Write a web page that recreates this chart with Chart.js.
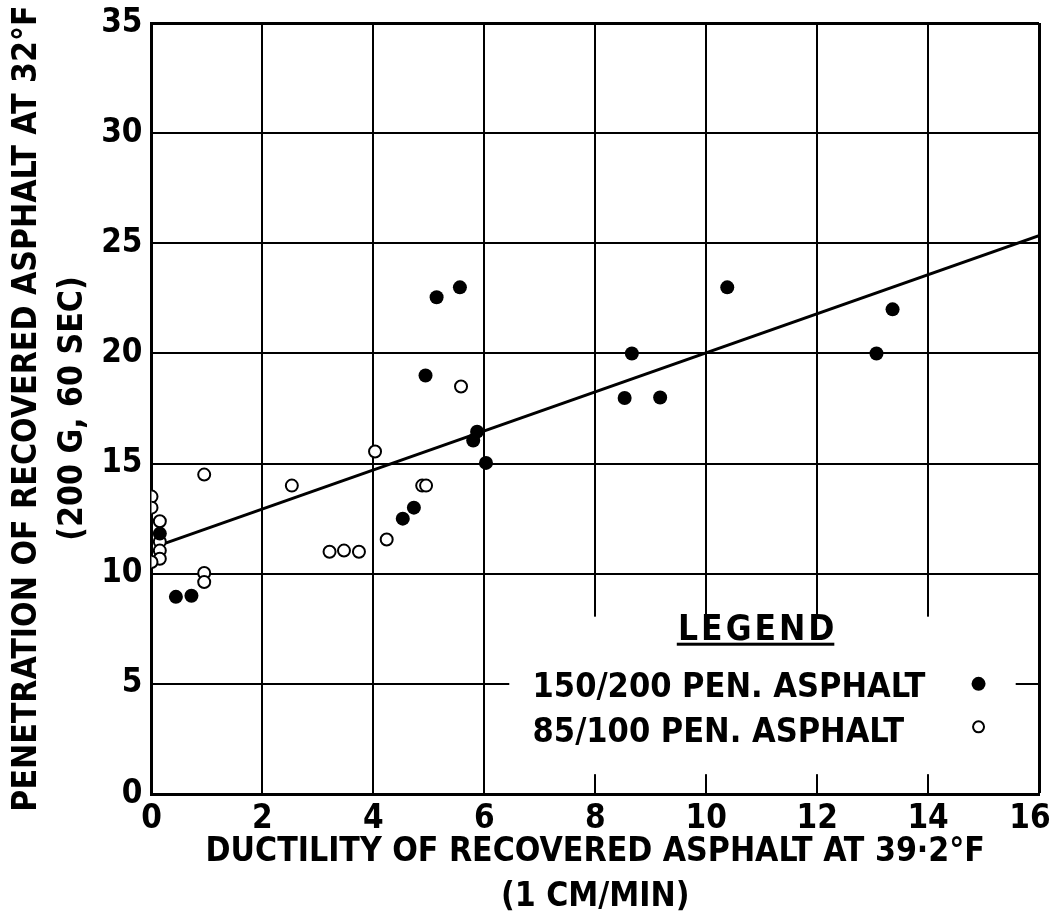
<!DOCTYPE html>
<html>
<head>
<meta charset="utf-8">
<script src="https://cdn.jsdelivr.net/npm/chart.js@4.4.1/dist/chart.umd.min.js"></script>
<style>
  body { margin: 0; background: #fff; }
  #wrap { width: 1050px; height: 919px; }
</style>
</head>
<body>
<div id="wrap"><canvas id="chart" width="1050" height="919"></canvas></div>
<script>
// 150/200 pen. asphalt (filled dots)
const pen150X = [0.15, 0.44, 0.72, 4.53, 4.73, 4.94, 5.14, 5.56, 5.8, 5.87, 6.03, 8.53, 8.66, 9.17, 10.38, 13.07, 13.36];
const pen150Y = [11.82, 8.95, 9.0, 12.5, 13.0, 19.0, 22.55, 23.0, 16.05, 16.45, 15.03, 17.98, 20.0, 18.0, 23.0, 20.0, 22.0];

// 85/100 pen. asphalt (open circles)
const pen85X = [0, 0, 0.15, 0.15, 0.15, 0.15, 0, 0.95, 0.95, 0.95, 2.53, 3.21, 3.47, 3.74, 4.03, 4.24, 4.88, 4.95, 5.58];
const pen85Y = [13.5, 13.0, 12.38, 11.45, 11.05, 10.68, 10.53, 14.5, 10.03, 9.62, 14.0, 11.0, 11.05, 11.0, 15.55, 11.55, 14.0, 14.0, 18.5];

// fitted trend line, end points
const fitX = [0.15, 16];
const fitY = [11.3, 25.35];

const xTicks = [0, 2, 4, 6, 8, 10, 12, 14, 16];
const yTicks = [0, 5, 10, 15, 20, 25, 30, 35];

const legendLabels = ['150/200 PEN. ASPHALT', '85/100 PEN. ASPHALT'];

const FONT = "'DejaVu Sans Condensed', 'DejaVu Sans', sans-serif";
const pts = (xs, ys) => xs.map((v, i) => ({ x: v, y: ys[i] }));

// white panel with the hand-lettered legend, drawn over the grid
const legendPanel = {
  id: 'legendPanel',
  beforeDraw(chart) {
    // keep the last x label ("16") inside the canvas
    const items = chart.scales.x.getLabelItems();
    const last = items[items.length - 1];
    if (last && !last._nudged) {
      last.options.translation[0] -= 9;
      last._nudged = true;
    }
  },
  beforeDatasetsDraw(chart) {
    const { ctx, scales: { x, y } } = chart;
    const px = v => x.getPixelForValue(v);
    const py = v => y.getPixelForValue(v);
    ctx.save();
    ctx.fillStyle = '#fff';
    ctx.fillRect(px(6.45), py(8.05), px(15.58) - px(6.45), py(0.9) - py(8.05));

    ctx.fillStyle = '#000';
    ctx.font = 'bold 35px ' + FONT;
    ctx.textBaseline = 'alphabetic';
    ctx.textAlign = 'center';
    ctx.letterSpacing = '3px';
    ctx.fillText('LEGEND', px(10.93), py(7.0));
    ctx.letterSpacing = '0px';
    ctx.fillRect(px(9.47), py(6.8) - 1.5, px(12.31) - px(9.47), 3);

    ctx.textAlign = 'left';
    ctx.font = 'bold 34px ' + FONT;
    ctx.fillText(legendLabels[0], px(6.87), py(4.41));
    ctx.fillText(legendLabels[1], px(6.87), py(2.36));

    ctx.beginPath();
    ctx.arc(px(14.91), py(5.0), 7, 0, Math.PI * 2);
    ctx.fill();
    ctx.beginPath();
    ctx.arc(px(14.91), py(3.05), 5.5, 0, Math.PI * 2);
    ctx.lineWidth = 2;
    ctx.stroke();
    ctx.restore();
  }
};

new Chart(document.getElementById('chart'), {
  type: 'scatter',
  data: {
    datasets: [
      {
        label: legendLabels[0],
        data: pts(pen150X, pen150Y),
        pointRadius: 7,
        backgroundColor: '#000',
        borderColor: '#000',
        borderWidth: 0,
        order: 1
      },
      {
        label: legendLabels[1],
        data: pts(pen85X, pen85Y),
        pointRadius: 6,
        backgroundColor: '#fff',
        borderColor: '#000',
        borderWidth: 2,
        order: 2
      },
      {
        label: 'fit',
        data: pts(fitX, fitY),
        showLine: true,
        pointRadius: 0,
        borderColor: '#000',
        borderWidth: 3,
        order: 3
      }
    ]
  },
  options: {
    responsive: false,
    animation: false,
    layout: { padding: { top: 23, right: 11, left: 0, bottom: 0 } },
    plugins: { legend: { display: false }, tooltip: { enabled: false } },
    scales: {
      x: {
        type: 'linear',
        min: 0,
        max: 16,
        afterBuildTicks: s => { s.ticks = xTicks.map(v => ({ value: v })); },
        afterFit: s => { s.height = 125; s.paddingLeft = 0; s.paddingRight = 0; },
        grid: { color: '#000', lineWidth: c => (c.tick && c.tick.value === 16 ? 3 : 2), drawTicks: false },
        border: { color: '#000', width: 3 },
        ticks: { color: '#000', padding: 6, maxRotation: 0, font: { family: FONT, size: 33, weight: 'bold' } },
        title: {
          display: true,
          text: ['DUCTILITY OF RECOVERED ASPHALT AT 39·2°F', '(1 CM/MIN)'],
          color: '#000',
          padding: { top: 0, bottom: 0 },
          font: { family: FONT, size: 33.5, weight: 'bold', lineHeight: 1.32 }
        }
      },
      y: {
        type: 'linear',
        min: 0,
        max: 35,
        afterBuildTicks: s => { s.ticks = yTicks.map(v => ({ value: v })); },
        afterFit: s => { s.width = 151.5; s.paddingTop = 0; s.paddingBottom = 0; },
        grid: { color: '#000', lineWidth: c => (c.tick && c.tick.value === 35 ? 3 : 2), drawTicks: false },
        border: { color: '#000', width: 3 },
        ticks: { color: '#000', padding: 9, font: { family: FONT, size: 33, weight: 'bold' } },
        title: {
          display: true,
          text: ['PENETRATION OF RECOVERED ASPHALT AT 32°F', '(200 G, 60 SEC)'],
          color: '#000',
          padding: { top: 4, bottom: 0 },
          font: { family: FONT, size: 33.5, weight: 'bold', lineHeight: 1.37 }
        }
      }
    }
  },
  plugins: [legendPanel]
});
</script>
</body>
</html>
